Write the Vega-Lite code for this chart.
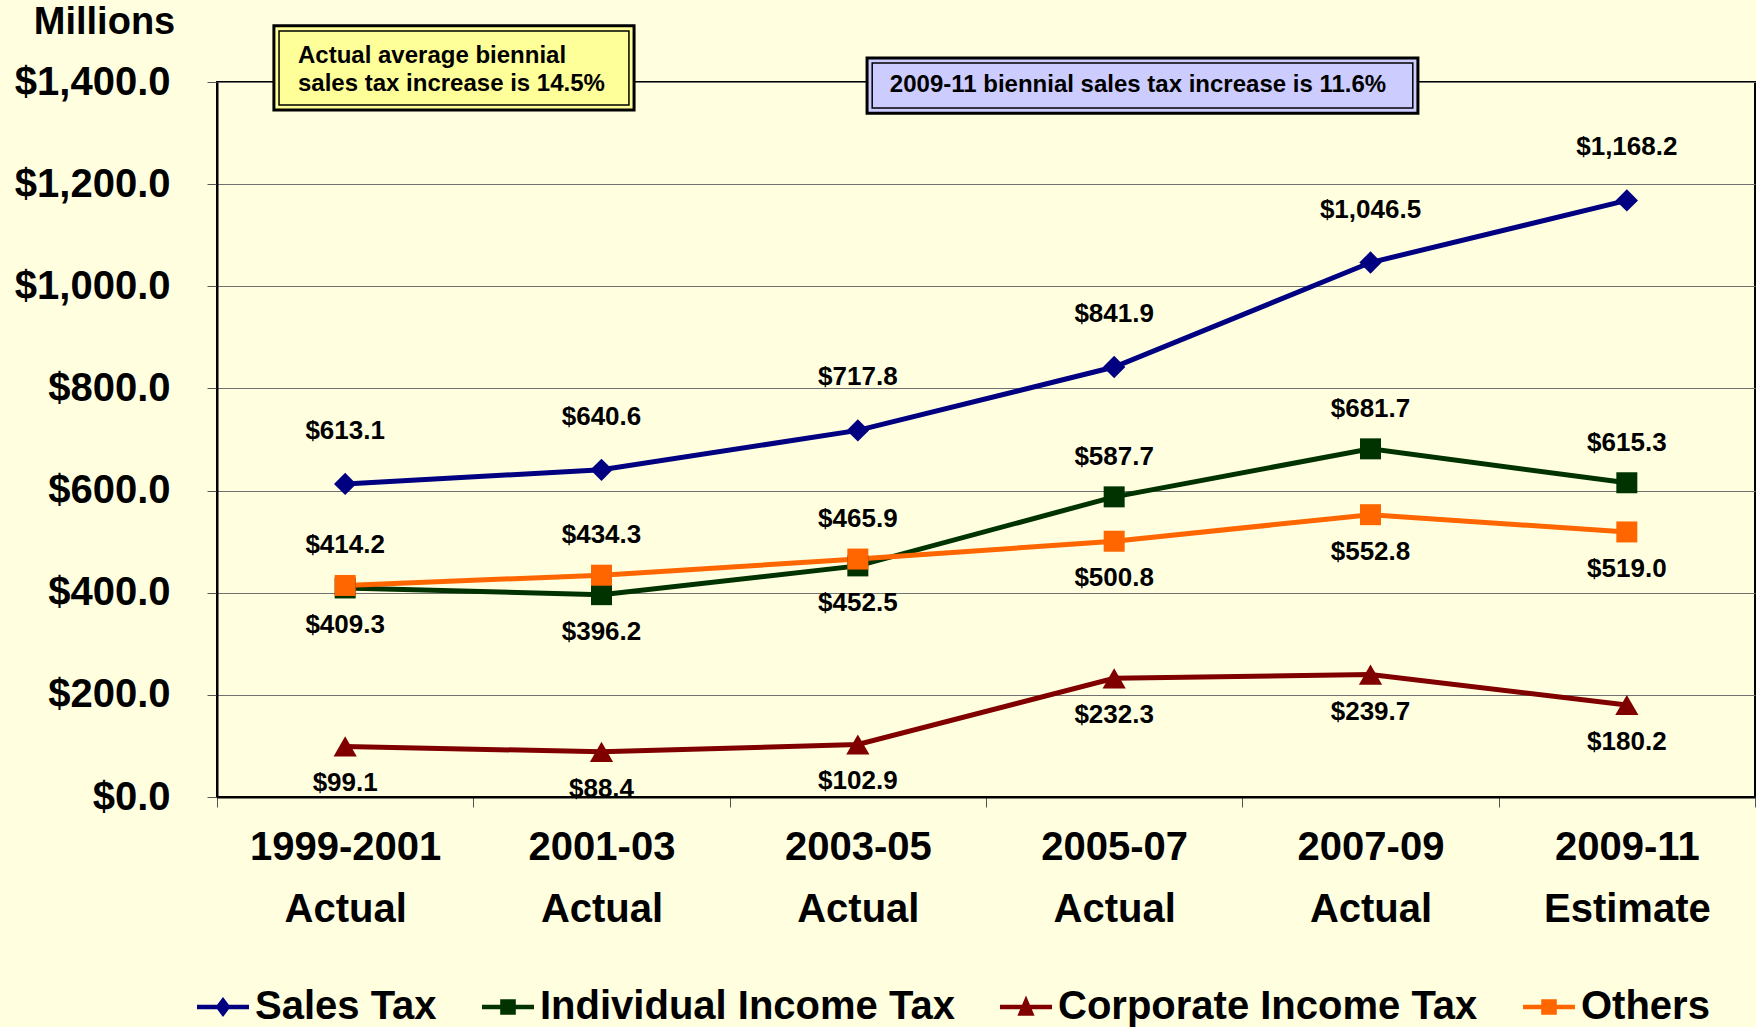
{
  "$schema": "https://vega.github.io/schema/vega-lite/v6.json",
  "width": 1538,
  "height": 715,
  "autosize": {"type": "none"},
  "padding": {"left": 217, "top": 82, "right": 1, "bottom": 230},
  "background": "#FFFFE0",
  "config": {
    "font": "Liberation Sans",
    "view": {"stroke": "#000000", "strokeWidth": 2}
  },
  "resolve": {"scale": {"x": "independent"}},
  "layer": [
    {
      "data": {
        "values": [
          {"series": "Sales Tax", "period": "1999-2001 Actual", "value": 613.1},
          {"series": "Sales Tax", "period": "2001-03 Actual", "value": 640.6},
          {"series": "Sales Tax", "period": "2003-05 Actual", "value": 717.8},
          {"series": "Sales Tax", "period": "2005-07 Actual", "value": 841.9},
          {"series": "Sales Tax", "period": "2007-09 Actual", "value": 1046.5},
          {"series": "Sales Tax", "period": "2009-11 Estimate", "value": 1168.2},
          {"series": "Individual Income Tax", "period": "1999-2001 Actual", "value": 409.3},
          {"series": "Individual Income Tax", "period": "2001-03 Actual", "value": 396.2},
          {"series": "Individual Income Tax", "period": "2003-05 Actual", "value": 452.5},
          {"series": "Individual Income Tax", "period": "2005-07 Actual", "value": 587.7},
          {"series": "Individual Income Tax", "period": "2007-09 Actual", "value": 681.7},
          {"series": "Individual Income Tax", "period": "2009-11 Estimate", "value": 615.3},
          {"series": "Corporate Income Tax", "period": "1999-2001 Actual", "value": 99.1},
          {"series": "Corporate Income Tax", "period": "2001-03 Actual", "value": 88.4},
          {"series": "Corporate Income Tax", "period": "2003-05 Actual", "value": 102.9},
          {"series": "Corporate Income Tax", "period": "2005-07 Actual", "value": 232.3},
          {"series": "Corporate Income Tax", "period": "2007-09 Actual", "value": 239.7},
          {"series": "Corporate Income Tax", "period": "2009-11 Estimate", "value": 180.2},
          {"series": "Others", "period": "1999-2001 Actual", "value": 414.2},
          {"series": "Others", "period": "2001-03 Actual", "value": 434.3},
          {"series": "Others", "period": "2003-05 Actual", "value": 465.9},
          {"series": "Others", "period": "2005-07 Actual", "value": 500.8},
          {"series": "Others", "period": "2007-09 Actual", "value": 552.8},
          {"series": "Others", "period": "2009-11 Estimate", "value": 519.0}
        ]
      },
      "encoding": {
        "x": {
          "field": "period",
          "type": "nominal",
          "sort": null,
          "scale": {"type": "band", "paddingInner": 0, "paddingOuter": 0},
          "axis": {
            "title": null,
            "labelAngle": 0,
            "labelExpr": "split(datum.label, ' ')",
            "labelFontSize": 40,
            "labelFontWeight": "bold",
            "labelColor": "#000000",
            "labelLineHeight": 62,
            "labelPadding": 20,
            "labelLimit": 600,
            "tickBand": "extent",
            "tickSize": 10,
            "tickColor": "#555555",
            "tickWidth": 1,
            "domainColor": "#000000",
            "domainWidth": 2,
            "grid": false
          }
        },
        "y": {
          "field": "value",
          "type": "quantitative",
          "scale": {"domain": [0, 1400], "nice": false},
          "axis": {
            "title": "Millions",
            "titleAngle": 0,
            "titleAlign": "center",
            "titleBaseline": "middle",
            "titleX": -113,
            "titleY": -60,
            "titleFontSize": 38,
            "titleFontWeight": "bold",
            "titleColor": "#000000",
            "values": [0, 200, 400, 600, 800, 1000, 1200, 1400],
            "format": "$,.1f",
            "labelFontSize": 40,
            "labelFontWeight": "bold",
            "labelColor": "#000000",
            "labelPadding": 37,
            "labelLimit": 600,
            "tickSize": 10,
            "tickColor": "#555555",
            "domainColor": "#000000",
            "domainWidth": 2,
            "grid": true,
            "gridColor": "#707070",
            "gridWidth": 1
          }
        },
        "color": {
          "field": "series",
          "type": "nominal",
          "scale": {
            "domain": ["Sales Tax", "Individual Income Tax", "Corporate Income Tax", "Others"],
            "range": ["#000080", "#003300", "#800000", "#FF6600"]
          },
          "legend": {
            "title": null,
            "orient": "none",
            "legendX": -20,
            "legendY": 899,
            "direction": "horizontal",
            "labelFontSize": 40,
            "labelFontWeight": "bold",
            "labelColor": "#000000",
            "labelOffset": 6,
            "labelLimit": 1000,
            "columnPadding": 45,
            "symbolSize": 2704,
            "symbolStrokeWidth": 0,
            "symbolOpacity": 1
          }
        }
      },
      "layer": [
        {
          "mark": {"type": "line", "strokeWidth": 5}
        },
        {
          "mark": {"type": "point", "filled": true, "size": 2704, "opacity": 0},
          "encoding": {
            "shape": {
              "field": "series",
              "type": "nominal",
              "scale": {
                "domain": ["Sales Tax", "Individual Income Tax", "Corporate Income Tax", "Others"],
                "range": [
                  "M-1,-0.09H1V0.09H-1Z M0,-0.38L0.29,0L0,0.38L-0.29,0Z",
                  "M-1,-0.09H1V0.09H-1Z M-0.3,-0.3H0.3V0.3H-0.3Z",
                  "M-1,-0.09H1V0.09H-1Z M0,-0.44L0.33,0.34L-0.33,0.34Z",
                  "M-1,-0.09H1V0.09H-1Z M-0.3,-0.3H0.3V0.3H-0.3Z"
                ]
              },
              "legend": null
            }
          }
        },
        {
          "transform": [{"filter": "datum.series === 'Sales Tax'"}],
          "mark": {"type": "point", "shape": "diamond", "filled": true, "size": 500, "opacity": 1},
          "encoding": {"color": {"value": "#000080"}}
        },
        {
          "transform": [{"filter": "datum.series === 'Individual Income Tax'"}],
          "mark": {"type": "point", "shape": "square", "filled": true, "size": 441, "opacity": 1},
          "encoding": {"color": {"value": "#003300"}}
        },
        {
          "transform": [{"filter": "datum.series === 'Corporate Income Tax'"}],
          "mark": {"type": "point", "shape": "triangle-up", "filled": true, "size": 540, "opacity": 1},
          "encoding": {"color": {"value": "#800000"}}
        },
        {
          "transform": [{"filter": "datum.series === 'Others'"}],
          "mark": {"type": "point", "shape": "square", "filled": true, "size": 441, "opacity": 1},
          "encoding": {"color": {"value": "#FF6600"}}
        },
        {
          "transform": [
            {"calculate": "'$' + format(datum.value, ',.1f')", "as": "label"},
            {"calculate": "datum.series === 'Individual Income Tax' || datum.series === 'Others' ? datum.value : null", "as": "mid"},
            {"joinaggregate": [{"op": "max", "field": "mid", "as": "midmax"}], "groupby": ["period"]},
            {"calculate": "datum.series === 'Sales Tax' ? 'top' : ((datum.mid !== null && datum.mid === datum.midmax) ? 'above' : 'below')", "as": "pos"}
          ],
          "layer": [
            {
              "transform": [{"filter": "datum.pos === 'top'"}],
              "mark": {"type": "text", "dy": -53, "fontSize": 26, "fontWeight": "bold", "baseline": "middle"},
              "encoding": {"text": {"field": "label"}, "color": {"value": "#000000"}}
            },
            {
              "transform": [{"filter": "datum.pos === 'above'"}],
              "mark": {"type": "text", "dy": -40, "fontSize": 26, "fontWeight": "bold", "baseline": "middle"},
              "encoding": {"text": {"field": "label"}, "color": {"value": "#000000"}}
            },
            {
              "transform": [{"filter": "datum.pos === 'below'"}],
              "mark": {"type": "text", "dy": 37, "fontSize": 26, "fontWeight": "bold", "baseline": "middle"},
              "encoding": {"text": {"field": "label"}, "color": {"value": "#000000"}}
            }
          ]
        }
      ]
    },
    {
      "data": {
        "values": [
          {"id": "avg", "note": ["Actual average biennial", "sales tax increase is 14.5%"]},
          {"id": "est", "note": "2009-11 biennial sales tax increase is 11.6%"}
        ]
      },
      "layer": [
        {
          "transform": [{"filter": "datum.id === 'avg'"}],
          "mark": {"type": "rect", "fill": "#FFFF99", "stroke": "#000000", "strokeWidth": 3},
          "encoding": {
            "x": {"datum": 0.222, "type": "quantitative", "scale": {"domain": [0, 6], "nice": false, "zero": false}, "axis": null},
            "x2": {"datum": 1.627},
            "y": {"datum": 1345, "type": "quantitative", "scale": {"domain": [0, 1400], "nice": false}},
            "y2": {"datum": 1510}
          }
        },
        {
          "transform": [{"filter": "datum.id === 'avg'"}],
          "mark": {"type": "rect", "fillOpacity": 0, "stroke": "#000000", "strokeWidth": 1.5},
          "encoding": {
            "x": {"datum": 0.242, "type": "quantitative", "scale": {"domain": [0, 6], "nice": false, "zero": false}, "axis": null},
            "x2": {"datum": 1.607},
            "y": {"datum": 1355, "type": "quantitative", "scale": {"domain": [0, 1400], "nice": false}},
            "y2": {"datum": 1500}
          }
        },
        {
          "transform": [{"filter": "datum.id === 'est'"}],
          "mark": {"type": "rect", "fill": "#CCCCFF", "stroke": "#000000", "strokeWidth": 3},
          "encoding": {
            "x": {"datum": 2.536, "type": "quantitative", "scale": {"domain": [0, 6], "nice": false, "zero": false}, "axis": null},
            "x2": {"datum": 4.685},
            "y": {"datum": 1339, "type": "quantitative", "scale": {"domain": [0, 1400], "nice": false}},
            "y2": {"datum": 1447}
          }
        },
        {
          "transform": [{"filter": "datum.id === 'est'"}],
          "mark": {"type": "rect", "fillOpacity": 0, "stroke": "#000000", "strokeWidth": 1.5},
          "encoding": {
            "x": {"datum": 2.556, "type": "quantitative", "scale": {"domain": [0, 6], "nice": false, "zero": false}, "axis": null},
            "x2": {"datum": 4.665},
            "y": {"datum": 1349, "type": "quantitative", "scale": {"domain": [0, 1400], "nice": false}},
            "y2": {"datum": 1437}
          }
        },
        {
          "transform": [{"filter": "datum.id === 'avg'"}],
          "mark": {"type": "text", "align": "left", "baseline": "middle", "fontSize": 24, "fontWeight": "bold", "lineHeight": 28, "color": "#000000"},
          "encoding": {
            "x": {"datum": 0.316, "type": "quantitative", "scale": {"domain": [0, 6], "nice": false, "zero": false}, "axis": null},
            "y": {"datum": 1450, "type": "quantitative", "scale": {"domain": [0, 1400], "nice": false}},
            "text": {"field": "note"}
          }
        },
        {
          "transform": [{"filter": "datum.id === 'est'"}],
          "mark": {"type": "text", "align": "center", "baseline": "middle", "fontSize": 24, "fontWeight": "bold", "color": "#000000"},
          "encoding": {
            "x": {"datum": 3.593, "type": "quantitative", "scale": {"domain": [0, 6], "nice": false, "zero": false}, "axis": null},
            "y": {"datum": 1394, "type": "quantitative", "scale": {"domain": [0, 1400], "nice": false}},
            "text": {"field": "note"}
          }
        }
      ]
    }
  ]
}
